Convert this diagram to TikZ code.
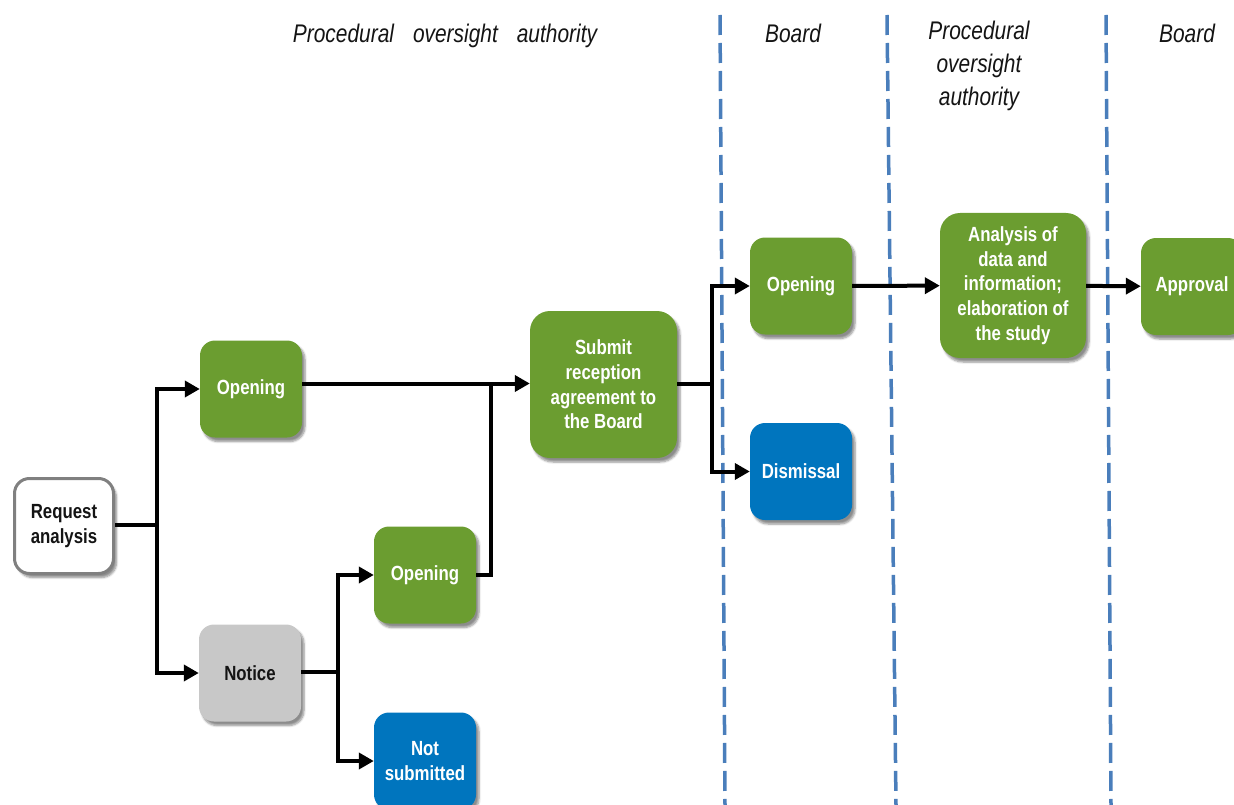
\documentclass[tikz,border=0pt]{standalone}
\usepackage{fontspec}
\setmainfont[FakeStretch=0.82]{Liberation Sans}
\usetikzlibrary{arrows.meta,shadows.blur}

\definecolor{grn}{RGB}{107,157,48}
\definecolor{blu}{RGB}{0,117,190}
\definecolor{ltgray}{RGB}{200,200,200}
\definecolor{rimgray}{RGB}{128,128,128}
\definecolor{sepblue}{RGB}{74,126,187}
\definecolor{ink}{RGB}{20,20,20}

\tikzset{
  box/.style={rounded corners=15pt, minimum width=102pt, minimum height=97pt,
    align=center, inner sep=2pt,
    font=\fontsize{20.5}{24.6}\selectfont\bfseries,
    blur shadow={shadow xshift=3pt, shadow yshift=-4pt, shadow blur steps=6,
      shadow blur extra rounding=2pt, shadow opacity=45}},
  grnbox/.style={box, fill=grn, text=white},
  blubox/.style={box, fill=blu, text=white},
  graybox/.style={box, fill=ltgray, text=ink},
  reqbox/.style={box, fill=white, draw=rimgray, line width=3pt, text=ink,
    minimum width=99pt, minimum height=95pt},
  bigbox/.style={grnbox, rounded corners=20pt, minimum width=147pt, minimum height=147pt},
  hdr/.style={font=\fontsize{25.5}{33.3}\selectfont\itshape, text=ink,
    align=center, inner sep=0pt, anchor=base},
  ln/.style={draw=black, line width=4pt},
  arr/.style={ln, -{Triangle[length=15pt,width=16pt]}},
  sep/.style={draw=sepblue, line width=3.5pt, dash pattern=on 20pt off 8pt}
}

\begin{document}
\begin{tikzpicture}[x=1pt,y=-1pt]
\useasboundingbox (0,0) rectangle (1234,805);
\clip (0,0) rectangle (1234,805);

% lane separators
\draw[sep] (720,15) -- (725,805);
\draw[sep] (887,15) -- (896,805);
\draw[sep] (1106,15) -- (1111,805);

% lane headings (a multi-line heading sits on the baseline of its last line)
\node[hdr] (h1) at (445,43) {Procedural\hskip19pt oversight\hskip19pt authority};
\node[hdr] (h2) at (793,43) {Board};
\node[hdr] (h3) at (979,106) {Procedural\\oversight\\authority};
\node[hdr] (h4) at (1187,43) {Board};

% process steps
\node[reqbox]  (req)  at (64,526)      {Request\\analysis};
\node[grnbox]  (op1)  at (251,389)     {Opening};
\node[graybox] (ntc)  at (250,673)     {Notice};
\node[grnbox]  (op2)  at (425,575)     {Opening};
\node[blubox]  (nsub) at (425,761)     {Not\\submitted};
\node[bigbox]  (sub)  at (603.5,384.5) {Submit\\reception\\agreement to\\the Board};
\node[grnbox]  (op3)  at (801,286)     {Opening};
\node[blubox]  (dis)  at (801,471.5)   {Dismissal};
\node[bigbox, minimum width=146pt, minimum height=145pt] (ana) at (1013,285.5)
  {Analysis of\\data and\\information;\\elaboration of\\the study};
\node[grnbox]  (apr)  at (1192,286.5)  {Approval};

% junctions
\coordinate (j1) at (157,525);
\coordinate (j2) at (338,672);
\coordinate (j3) at (491,383.5);
\coordinate (j4) at (712,383.5);

% connectors
\draw[ln]  (req.east |- j1) -- (j1);
\draw[arr] (j1) |- (op1.west);
\draw[arr] (j1) |- (ntc.west);
\draw[ln]  (ntc.east |- j2) -- (j2);
\draw[arr] (j2) |- (op2.west);
\draw[arr] (j2) |- (nsub.west);
\draw[arr] (op1.east |- j3) -- (sub.west |- j3);
\draw[ln]  (op2.east) -| (j3);
\draw[ln]  (sub.east |- j4) -- (j4);
\draw[arr] (j4) |- (op3.west);
\draw[arr] (j4) |- (dis.west);
\draw[arr] (op3) -- (ana);
\draw[arr] (ana) -- (apr);
\end{tikzpicture}
\end{document}
